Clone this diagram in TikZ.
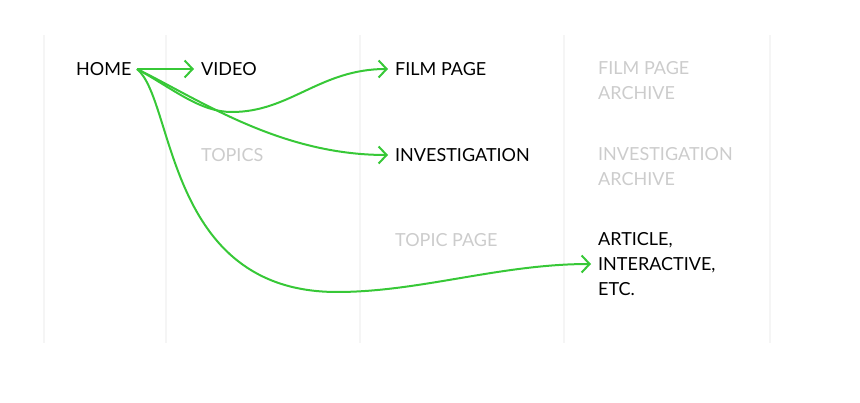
\documentclass[tikz,border=0pt]{standalone}
\usepackage{fontspec}
\setmainfont{Lato}
\usepackage{xcolor}
\usepackage{tikz}
\usetikzlibrary{positioning,arrows.meta}

\definecolor{linkgreen}{RGB}{55,200,55}
\definecolor{gridgray}{RGB}{245,245,245}
\definecolor{fadegray}{RGB}{204,204,204}

\begin{document}
\begin{tikzpicture}[x=1pt, y=-1pt, >={Straight Barb[length=8pt,width=17pt]},
		page/.style={anchor=west, inner xsep=7pt, inner ysep=0pt, align=left,
			font=\fontsize{18}{25}\selectfont},
		faded/.style={page, text=fadegray},
		link/.style={->, draw=linkgreen, line width=2pt}]
		\useasboundingbox (0,0) rectangle (860,403);

		% columns
		\foreach \x in {44,166,360,564,770}
			\draw[gridgray, line width=2pt] (\x,35) -- (\x,343);

		\node[page] (home) at (69,69) {HOME};
		\node[page] (video) at (194,69) {VIDEO};
		\node[page] (film) at (388,69) {FILM PAGE};
		\node[page] (invest) at (388,155) {INVESTIGATION};
		\node[page] (article) at (591,264) {ARTICLE,\\INTERACTIVE,\\ETC.};

		\node[faded] (topics) at (194,155) {TOPICS};
		\node[faded] (topicpage) at (388,240) {TOPIC PAGE};
		\node[faded] (filmarch) at (591,81) {FILM PAGE\\ARCHIVE};
		\node[faded] (investarch) at (591,167) {INVESTIGATION\\ARCHIVE};

		\coordinate (start) at (137,69);

		\draw[link] (start) -- (video.west);
		\draw[link] (start) .. controls (175,90) and (200,112) .. (232,112)
			.. controls (290,112) and (320,69) .. (film.west);
		\draw[link] (start) .. controls (200,100) and (280,155) .. (invest.west);
		\draw[link] (start) .. controls (175,100) and (165,292) .. (337,292)
			.. controls (420,292) and (500,264) .. (article.west);
	\end{tikzpicture}
\end{document}
